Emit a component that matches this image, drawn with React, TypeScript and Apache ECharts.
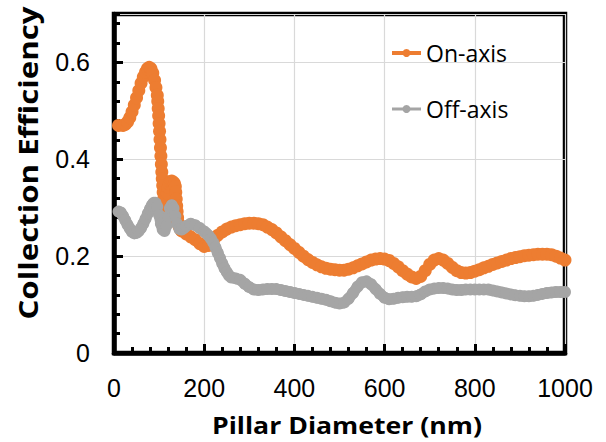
import React, { useEffect, useRef } from "react";
import * as echarts from "echarts";

const xTicks = [0, 200, 400, 600, 800, 1000];
const yTicks = [0, 0.2, 0.4, 0.6];

const onAxisX = [
  10, 20, 25, 30, 35, 40, 45, 50, 55, 60, 65, 70, 74, 78, 82, 86, 90, 93, 96, 97, 98, 99, 100, 101, 102, 103, 104, 105,
  106, 107, 108, 109, 110, 111, 112, 114, 116, 118, 120, 122, 125, 128, 131, 134, 136, 137, 138, 139, 140, 141, 142,
  144, 147, 150, 160, 170, 180, 190, 200, 210, 220, 230, 240, 250, 260, 270, 280, 290, 300, 310, 320, 330, 340, 350,
  360, 370, 380, 390, 400, 410, 420, 430, 440, 450, 460, 470, 480, 490, 500, 510, 520, 530, 540, 550, 560, 570, 580,
  590, 600, 610, 620, 630, 640, 650, 660, 670, 680, 690, 700, 710, 720, 730, 740, 750, 760, 770, 780, 790, 800, 810,
  820, 830, 840, 850, 860, 870, 880, 890, 900, 910, 920, 930, 940, 950, 960, 970, 980, 990, 1000,
];
const onAxisY = [
  0.47, 0.47, 0.472, 0.477, 0.486, 0.498, 0.512, 0.527, 0.542, 0.557, 0.57, 0.58, 0.587, 0.59, 0.587, 0.578, 0.563,
  0.548, 0.532, 0.52, 0.505, 0.49, 0.474, 0.458, 0.441, 0.424, 0.407, 0.39, 0.374, 0.36, 0.346, 0.332, 0.318, 0.306,
  0.3, 0.304, 0.316, 0.33, 0.342, 0.35, 0.354, 0.355, 0.353, 0.35, 0.344, 0.332, 0.318, 0.304, 0.292, 0.28, 0.27,
  0.262, 0.256, 0.252, 0.246, 0.24, 0.234, 0.226, 0.22, 0.222, 0.232, 0.243, 0.25, 0.256, 0.26, 0.263, 0.265, 0.267,
  0.268, 0.268, 0.267, 0.265, 0.26, 0.255, 0.248, 0.24, 0.232, 0.224, 0.216, 0.208, 0.2, 0.193, 0.187, 0.182, 0.178,
  0.175, 0.173, 0.172, 0.171, 0.171, 0.173, 0.176, 0.18, 0.184, 0.188, 0.192, 0.194, 0.195, 0.194, 0.191, 0.185,
  0.178, 0.17, 0.163, 0.157, 0.154, 0.158, 0.17, 0.183, 0.192, 0.195, 0.192, 0.185, 0.177, 0.17, 0.166, 0.165, 0.166,
  0.169, 0.172, 0.176, 0.179, 0.183, 0.186, 0.189, 0.192, 0.195, 0.197, 0.199, 0.201, 0.202, 0.203, 0.204, 0.204,
  0.204, 0.203, 0.2, 0.196, 0.192,
];

const offAxisX = [
  10, 15, 20, 25, 30, 35, 40, 45, 50, 55, 60, 65, 70, 75, 80, 84, 88, 92, 96, 100, 104, 108, 112, 116, 120, 124, 128,
  132, 136, 140, 145, 150, 155, 160, 170, 180, 190, 200, 205, 210, 215, 220, 225, 230, 235, 240, 245, 250, 255, 260,
  270, 280, 290, 300, 310, 320, 330, 340, 350, 360, 370, 380, 390, 400, 410, 420, 430, 440, 450, 460, 470, 480, 490,
  500, 510, 520, 530, 540, 550, 560, 570, 580, 590, 600, 610, 620, 630, 640, 650, 660, 670, 680, 690, 700, 710, 720,
  730, 740, 750, 760, 770, 780, 790, 800, 810, 820, 830, 840, 850, 860, 870, 880, 890, 900, 910, 920, 930, 940, 950,
  960, 970, 980, 990, 1000,
];
const offAxisY = [
  0.292, 0.29, 0.283, 0.274, 0.265, 0.257, 0.25, 0.247, 0.248, 0.252, 0.258, 0.267, 0.277, 0.288, 0.298, 0.305, 0.31,
  0.31, 0.302, 0.285, 0.267, 0.255, 0.252, 0.262, 0.282, 0.299, 0.305, 0.299, 0.283, 0.267, 0.256, 0.255, 0.258,
  0.262, 0.267, 0.264, 0.258, 0.251, 0.247, 0.242, 0.236, 0.228, 0.218, 0.207, 0.196, 0.185, 0.175, 0.167, 0.16,
  0.156, 0.154, 0.151, 0.143, 0.136, 0.131, 0.13, 0.131, 0.132, 0.132, 0.132, 0.13, 0.128, 0.126, 0.124, 0.122, 0.12,
  0.118, 0.116, 0.114, 0.112, 0.11, 0.107, 0.104, 0.102, 0.104, 0.112, 0.124, 0.137, 0.146, 0.148, 0.142, 0.132,
  0.122, 0.114, 0.111, 0.112, 0.114, 0.115, 0.116, 0.116, 0.117, 0.121, 0.127, 0.131, 0.133, 0.134, 0.134, 0.133,
  0.131, 0.13, 0.13, 0.131, 0.131, 0.131, 0.131, 0.131, 0.131, 0.129, 0.127, 0.125, 0.123, 0.121, 0.119, 0.118,
  0.117, 0.117, 0.118, 0.12, 0.122, 0.124, 0.125, 0.126, 0.126, 0.126,
];

const ORANGE = "#ED7D31";
const GRAY = "#A5A5A5";

export default function App() {
  const ref = useRef<HTMLDivElement>(null);
  useEffect(() => {
    if (!ref.current) return;
    const chart = echarts.init(ref.current, undefined, { renderer: "svg" });
    const labelFont = { fontFamily: "Liberation Sans", fontSize: 25, color: "#000" };
    chart.setOption({
      animation: false,
      grid: {
        left: 114,
        right: 41,
        top: 14,
        bottom: 89,
        show: true,
        borderColor: "#000",
        borderWidth: 4.5,
        backgroundColor: "transparent",
      },
      legend: {
        orient: "vertical",
        left: 385,
        top: 34,
        itemWidth: 29,
        itemHeight: 10,
        itemGap: 28,
        textStyle: { fontFamily: "Open Sans", fontSize: 23, color: "#000", lineHeight: 28 },
        data: [
          { name: "On-axis", lineStyle: { width: 4 } },
          { name: "Off-axis", lineStyle: { width: 3 } },
        ],
      },
      xAxis: {
        type: "value",
        min: xTicks[0],
        max: xTicks[xTicks.length - 1],
        interval: 200,
        axisLine: { show: true, lineStyle: { color: "#000", width: 4.5 } },
        axisTick: { show: true, inside: true, length: 9, lineStyle: { color: "#000", width: 3 } },
        minorTick: { show: true, splitNumber: 5, length: 6, lineStyle: { color: "#000", width: 3 } },
        axisLabel: { ...labelFont, margin: 22, formatter: (v: number) => String(v) },
        splitLine: { show: true, lineStyle: { color: "#d9d9d9", width: 1.2 } },
      },
      yAxis: [
        {
          type: "value",
          min: 0,
          max: 0.7,
          interval: 0.2,
          axisLine: { show: true, lineStyle: { color: "#000", width: 4.5 } },
          axisTick: { show: true, inside: true, length: 9, lineStyle: { color: "#000", width: 3 } },
          axisLabel: {
            ...labelFont,
            margin: 24,
            showMaxLabel: false,
            formatter: (v: number) => (yTicks.some((t) => Math.abs(t - v) < 1e-9) ? String(+v.toFixed(1)) : ""),
          },
          splitLine: { show: true, lineStyle: { color: "#d9d9d9", width: 1.2 } },
        },
        {
          type: "value",
          min: 0,
          max: 0.7,
          interval: 0.04,
          position: "left",
          axisLine: { show: false },
          axisTick: { show: true, inside: true, length: 6, lineStyle: { color: "#000", width: 3 } },
          axisLabel: { show: false },
          splitLine: { show: false },
        },
      ],
      graphic: [
        {
          type: "text",
          x: 347,
          y: 425,
          scaleX: 1.11,
          style: {
            text: "Pillar Diameter (nm)",
            fontFamily: "Open Sans",
            fontWeight: "bold",
            fontSize: 24,
            fill: "#000",
            align: "center",
            verticalAlign: "middle",
          },
        },
        {
          type: "text",
          x: 28,
          y: 163,
          rotation: Math.PI / 2,
          scaleX: 1.2,
          style: {
            text: "Collection Efficiency",
            fontFamily: "Open Sans",
            fontWeight: "bold",
            fontSize: 26,
            fill: "#000",
            align: "center",
            verticalAlign: "middle",
          },
        },
      ],
      series: [
        {
          name: "On-axis",
          type: "line",
          clip: false,
          data: onAxisX.map((x, i) => [x, onAxisY[i]]),
          symbol: "circle",
          symbolSize: 13,
          itemStyle: { color: ORANGE },
          lineStyle: { color: ORANGE, width: 8 },
        },
        {
          name: "Off-axis",
          type: "line",
          clip: false,
          data: offAxisX.map((x, i) => [x, offAxisY[i]]),
          symbol: "circle",
          symbolSize: 12,
          itemStyle: { color: GRAY },
          lineStyle: { color: GRAY, width: 11 },
        },
      ],
    });
    return () => chart.dispose();
  }, []);
  return <div ref={ref} style={{ position: "absolute", left: 0, top: 0, width: 606, height: 442 }} />;
}
